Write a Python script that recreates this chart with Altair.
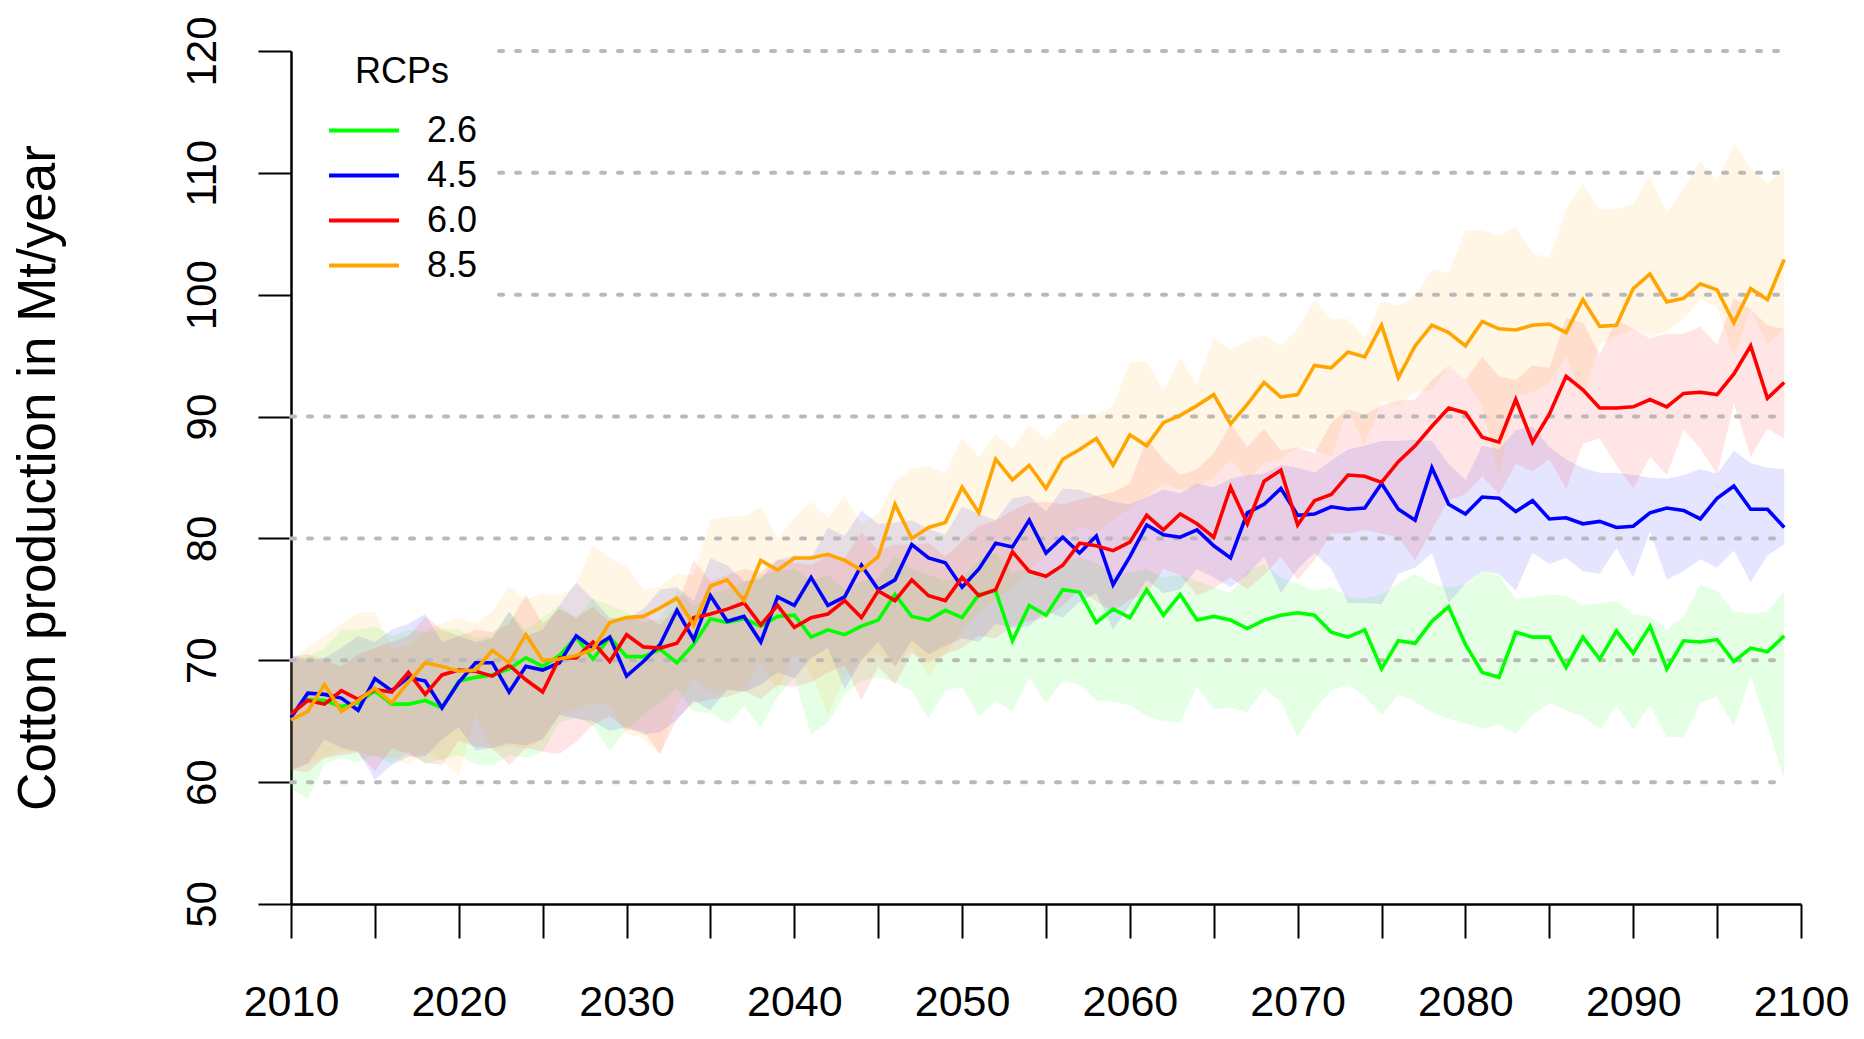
import altair as alt
import pandas as pd

years = list(range(2010, 2100))
rcp_labels = ["2.6", "4.5", "6.0", "8.5"]
rcp_colors = ["#00ff00", "#0000ff", "#ff0000", "#ffa500"]

rcp26 = [65.5, 66.8, 66.7, 66.2, 66.5, 67.5, 66.4, 66.4, 66.7, 66.1,
         68.3, 68.6, 68.8, 69.3, 70.2, 69.5, 70.4, 71.9, 70.1, 71.9,
         70.3, 70.3, 70.9, 69.8, 71.3, 73.4, 73.1, 73.4, 72.8, 73.6,
         73.7, 71.9, 72.5, 72.1, 72.8, 73.3, 75.4, 73.6, 73.3, 74.1,
         73.5, 75.4, 75.7, 71.6, 74.5, 73.7, 75.8, 75.6, 73.1, 74.2,
         73.5, 75.8, 73.7, 75.4, 73.3, 73.6, 73.3, 72.6, 73.3, 73.7,
         73.9, 73.7, 72.3, 71.9, 72.5, 69.3, 71.6, 71.4, 73.2, 74.4,
         71.3, 69.0, 68.6, 72.3, 71.9, 71.9, 69.4, 71.9, 70.1, 72.4,
         70.6, 72.8, 69.3, 71.6, 71.5, 71.7, 69.9, 71.0, 70.7, 72.0]
rcp45 = [65.3, 67.3, 67.2, 66.9, 65.9, 68.5, 67.5, 68.6, 68.3, 66.1,
         68.2, 69.8, 69.8, 67.4, 69.5, 69.2, 69.8, 72.0, 71.0, 71.9,
         68.7, 69.9, 71.3, 74.1, 71.7, 75.3, 73.2, 73.6, 71.5, 75.2,
         74.5, 76.8, 74.5, 75.2, 77.8, 75.8, 76.6, 79.5, 78.4, 78.0,
         76.0, 77.5, 79.6, 79.3, 81.5, 78.8, 80.1, 78.8, 80.2, 76.2,
         78.5, 81.1, 80.3, 80.1, 80.7, 79.4, 78.4, 82.1, 82.8, 84.1,
         81.9, 82.0, 82.6, 82.4, 82.5, 84.5, 82.4, 81.5, 85.8, 82.8,
         82.0, 83.4, 83.3, 82.2, 83.1, 81.6, 81.7, 81.2, 81.4, 80.9,
         81.0, 82.1, 82.5, 82.3, 81.6, 83.3, 84.3, 82.4, 82.4, 80.9]
rcp60 = [65.6, 66.7, 66.4, 67.5, 66.8, 67.6, 67.4, 69.0, 67.2, 68.8,
         69.2, 69.1, 68.7, 69.6, 68.4, 67.4, 70.2, 70.2, 71.5, 69.9,
         72.1, 71.1, 71.0, 71.4, 73.5, 73.8, 74.2, 74.7, 72.9, 74.5,
         72.7, 73.5, 73.8, 74.9, 73.5, 75.7, 74.9, 76.6, 75.3, 74.9,
         76.8, 75.3, 75.8, 78.9, 77.3, 76.9, 77.8, 79.6, 79.4, 79.0,
         79.7, 81.9, 80.7, 82.0, 81.2, 80.1, 84.2, 81.2, 84.7, 85.6,
         81.1, 83.1, 83.6, 85.2, 85.1, 84.6, 86.3, 87.6, 89.2, 90.7,
         90.3, 88.3, 87.9, 91.4, 87.9, 90.2, 93.3, 92.2, 90.7, 90.7,
         90.8, 91.4, 90.8, 91.9, 92.0, 91.8, 93.5, 95.8, 91.5, 92.8]
rcp85 = [65.1, 65.8, 68.0, 65.8, 66.7, 67.7, 66.5, 68.2, 69.8, 69.5,
         69.1, 69.2, 70.8, 69.8, 72.1, 70.0, 70.1, 70.4, 70.9, 73.1,
         73.5, 73.6, 74.3, 75.1, 72.9, 76.1, 76.6, 74.9, 78.2, 77.4,
         78.4, 78.4, 78.7, 78.2, 77.4, 78.5, 82.8, 80.0, 80.9, 81.3,
         84.2, 82.1, 86.5, 84.8, 86.0, 84.1, 86.5, 87.3, 88.2, 86.0,
         88.5, 87.6, 89.5, 90.1, 90.9, 91.8, 89.4, 91.0, 92.8, 91.6,
         91.8, 94.2, 94.0, 95.3, 94.9, 97.5, 93.2, 95.8, 97.5, 96.9,
         95.8, 97.8, 97.2, 97.1, 97.5, 97.6, 96.9, 99.6, 97.4, 97.5,
         100.5, 101.7, 99.4, 99.7, 100.9, 100.4, 97.7, 100.5, 99.6, 102.9]

rcp26_hi = [70.0, 70.3, 71.0, 72.5, 72.5, 72.8, 72.0, 72.5, 72.3, 72.6,
            72.5, 71.8, 72.0, 74.0, 72.5, 73.5, 74.5, 73.5, 75.1, 74.5,
            74.0, 73.1, 73.4, 75.8, 74.4, 75.5, 75.8, 76.4, 77.0, 77.3,
            77.5, 76.5, 77.0, 75.8, 76.5, 76.8, 78.5, 77.5, 77.0, 76.5,
            76.8, 78.2, 78.8, 77.2, 77.5, 76.8, 78.0, 78.5, 78.0, 77.0,
            77.2, 77.5, 76.8, 77.0, 76.5, 76.0, 75.5, 77.3, 77.9, 76.8,
            76.3, 75.7, 76.0, 75.2, 75.1, 75.4, 76.3, 77.1, 76.3, 76.0,
            76.2, 77.3, 77.0, 75.0, 75.2, 75.4, 75.3, 74.5, 74.7, 74.8,
            73.8, 73.6, 72.5, 73.6, 76.2, 75.7, 74.0, 73.8, 74.0, 75.7]
rcp26_lo = [59.5, 58.6, 61.5, 62.0, 61.6, 62.2, 61.5, 62.5, 61.5, 61.9,
            62.2, 61.5, 61.3, 62.2, 62.0, 62.5, 64.9, 65.3, 64.6, 62.6,
            64.3, 65.5, 66.5, 67.7, 65.8, 65.7, 64.8, 66.2, 64.5, 67.0,
            68.6, 63.9, 64.9, 67.2, 68.3, 68.6, 68.2, 67.5, 65.2, 67.5,
            67.8, 65.3, 66.7, 65.8, 68.6, 66.5, 68.3, 68.0, 66.7, 66.6,
            66.3, 65.4, 65.0, 64.9, 67.8, 66.0, 66.1, 65.7, 67.7, 66.6,
            63.7, 66.0, 67.5, 68.0, 67.0, 65.5, 67.2, 66.6, 65.7, 65.2,
            64.8, 64.4, 64.7, 64.0, 65.5, 66.5, 65.9, 65.4, 64.3, 66.3,
            64.3, 66.3, 63.7, 63.7, 66.5, 67.0, 64.6, 68.7, 64.6, 60.2]
rcp45_hi = [70.5, 70.0, 70.2, 71.0, 72.0, 71.5, 72.5, 73.0, 73.8, 71.5,
            72.0, 71.5, 71.8, 74.0, 72.0, 72.5, 74.5, 76.4, 75.0, 73.5,
            73.4, 74.2, 75.8, 76.0, 74.9, 78.4, 77.8, 76.5, 76.7, 78.2,
            78.6, 78.4, 80.9, 80.2, 82.3, 81.2, 81.3, 81.5, 80.8, 80.3,
            82.6, 82.0, 81.5, 83.3, 83.5, 82.2, 84.1, 84.0, 83.5, 83.0,
            82.8, 83.4, 84.0, 83.7, 84.5, 84.2, 84.9, 85.2, 85.3, 86.0,
            85.8, 85.4, 86.4, 87.3, 87.6, 88.0, 88.0, 88.1, 88.0, 86.1,
            84.8, 87.6, 87.3, 88.9, 89.2, 87.5, 86.5, 85.8, 85.4, 85.4,
            85.2, 85.0, 84.9, 85.2, 85.7, 85.3, 87.2, 86.2, 85.8, 85.7]
rcp45_lo = [61.0, 61.5, 63.5, 62.8, 62.5, 60.2, 61.4, 62.1, 62.1, 63.5,
            64.5, 62.6, 62.8, 63.2, 63.0, 63.5, 65.5, 65.2, 65.0, 64.2,
            64.5, 63.9, 64.1, 65.1, 66.7, 65.9, 67.6, 67.4, 68.0, 69.0,
            68.5, 70.2, 71.0, 67.6, 70.0, 71.5, 69.5, 71.6, 70.5, 71.2,
            71.8, 71.5, 73.0, 72.6, 72.8, 74.0, 73.5, 74.8, 75.5, 72.5,
            74.5, 76.6, 75.5, 75.8, 77.5, 76.8, 76.0, 77.0, 78.5, 75.5,
            77.5, 78.8, 77.5, 74.7, 74.7, 74.6, 77.1, 77.6, 78.8, 74.7,
            76.3, 77.3, 77.1, 75.7, 78.8, 77.9, 78.4, 77.3, 77.1, 79.2,
            76.8, 80.6, 76.6, 77.3, 78.3, 77.6, 79.0, 76.4, 78.6, 79.5]
rcp60_hi = [70.3, 70.5, 70.0, 69.5, 70.5, 71.0, 71.5, 72.0, 73.6, 72.5,
            72.0, 72.5, 72.3, 73.0, 75.4, 73.0, 74.2, 73.5, 74.4, 73.1,
            73.4, 73.8, 72.9, 74.4, 78.2, 76.5, 77.0, 77.5, 77.2, 78.3,
            78.0, 77.8, 78.6, 78.4, 80.5, 79.0, 79.5, 79.5, 79.6, 78.5,
            79.8, 81.0, 81.5, 82.3, 82.9, 83.0, 82.8, 83.2, 83.5, 83.8,
            84.5, 88.2, 86.5, 85.2, 85.7, 87.0, 89.4, 87.5, 89.0, 87.2,
            87.5, 87.0, 89.5, 90.6, 90.2, 90.9, 91.3, 91.4, 93.0, 94.2,
            93.0, 94.9, 93.3, 93.0, 94.2, 94.0, 98.1, 97.7, 95.1, 97.9,
            97.2, 96.4, 96.8, 96.8, 97.4, 95.9, 99.7, 98.8, 97.5, 97.2]
rcp60_lo = [61.0, 60.8, 62.0, 62.2, 62.4, 60.9, 62.8, 62.3, 61.6, 61.4,
            63.4, 62.9, 62.8, 61.4, 62.8, 62.5, 62.3, 63.3, 64.7, 65.4,
            64.3, 64.2, 62.3, 65.2, 66.5, 66.8, 67.0, 67.5, 66.8, 68.0,
            67.8, 68.2, 69.0, 69.6, 66.7, 69.5, 68.0, 70.6, 69.8, 70.5,
            71.0, 72.0, 71.8, 72.8, 73.2, 73.5, 74.5, 75.8, 74.8, 74.0,
            75.0, 75.4, 77.5, 77.0, 75.3, 75.9, 76.8, 75.8, 77.0, 78.5,
            76.6, 78.2, 80.4, 80.4, 80.7, 80.4, 80.1, 78.2, 80.7, 83.2,
            83.6, 85.1, 83.6, 86.1, 85.5, 86.5, 84.1, 87.8, 88.2, 86.0,
            84.1, 86.7, 85.2, 88.9, 87.4, 85.2, 91.1, 86.7, 89.0, 88.2]
rcp85_hi = [70.0, 71.0, 72.0, 73.0, 73.9, 74.0, 71.0, 71.2, 72.5, 73.0,
            73.5, 73.0, 74.0, 76.0, 75.0, 75.5, 75.3, 76.2, 79.5, 78.4,
            77.7, 75.8, 76.0, 77.1, 77.0, 81.5, 81.8, 81.8, 82.6, 80.0,
            81.7, 83.0, 81.7, 83.5, 81.2, 82.0, 84.7, 85.7, 86.0, 85.3,
            88.2, 86.7, 88.5, 87.4, 89.3, 88.1, 89.5, 90.2, 90.2, 90.9,
            94.5, 94.5, 92.1, 94.8, 92.6, 96.5, 95.5, 96.2, 96.7, 95.8,
            97.2, 99.6, 98.0, 98.0, 96.4, 99.5, 99.1, 99.9, 102.1, 101.8,
            105.3, 105.3, 104.8, 105.6, 103.4, 103.0, 107.0, 109.1, 107.0, 107.0,
            107.5, 109.7, 106.7, 108.8, 111.0, 109.3, 112.4, 110.4, 109.1, 110.4]
rcp85_lo = [61.0, 61.5, 62.0, 62.5, 62.5, 62.1, 62.0, 61.4, 62.5, 61.8,
            60.5, 65.6, 62.5, 63.0, 62.7, 63.5, 65.5, 66.0, 66.5, 66.3,
            64.0, 63.6, 62.3, 66.4, 68.5, 67.5, 67.5, 67.6, 69.8, 67.5,
            70.7, 69.0, 65.6, 68.5, 70.0, 70.5, 69.5, 71.0, 68.6, 70.5,
            72.5, 74.0, 75.0, 76.0, 77.5, 78.5, 80.0, 81.0, 80.5, 81.5,
            82.5, 83.5, 84.5, 84.0, 84.2, 85.0, 86.5, 84.8, 86.2, 86.5,
            87.5, 87.3, 86.7, 90.6, 87.6, 91.3, 90.9, 92.0, 92.2, 94.2,
            93.0, 90.8, 85.1, 91.7, 92.0, 92.7, 95.0, 91.5, 95.9, 96.6,
            97.2, 96.6, 97.0, 98.0, 99.6, 99.0, 95.0, 98.8, 95.9, 97.2]

y_ticks = [50, 60, 70, 80, 90, 100, 110, 120]
x_ticks = list(range(2010, 2101, 5))
grid_levels = [60, 70, 80, 90, 100, 110, 120]

means = [rcp26, rcp45, rcp60, rcp85]
highs = [rcp26_hi, rcp45_hi, rcp60_hi, rcp85_hi]
lows = [rcp26_lo, rcp45_lo, rcp60_lo, rcp85_lo]

rows = []
for lab, m, hi, lo in zip(rcp_labels, means, highs, lows):
    for yr, a, b, c in zip(years, m, hi, lo):
        rows.append({"year": yr, "rcp": lab, "value": a, "hi": b, "lo": c})
df = pd.DataFrame(rows)

# gridlines: the upper three leave room for the legend
grid_df = pd.DataFrame({
    "level": grid_levels,
    "x0": [2010 if g < 100 else 2022.4 for g in grid_levels],
    "x1": [2099] * len(grid_levels),
})

FONT = "Liberation Sans"
W, H = 1510, 853

x_scale = alt.Scale(domain=[2010, 2100], nice=False, zero=False)
y_scale = alt.Scale(domain=[50, 120], nice=False, zero=False)

x_axis = alt.Axis(
    values=x_ticks, format="d",
    labelExpr="datum.value % 10 === 0 ? datum.label : ''",
    title=None, grid=False, tickSize=34, tickWidth=2, tickColor="black",
    domainColor="black", domainWidth=2.5, labelFontSize=43, labelFont=FONT,
    labelColor="black", labelPadding=43, labelFlush=False, labelOverlap=False,
)
y_axis = alt.Axis(
    values=y_ticks, format="d", grid=False, tickSize=33, tickWidth=2,
    tickColor="black", domainColor="black", domainWidth=2.5,
    labelFontSize=42, labelFont=FONT, labelColor="black", labelAngle=270,
    labelAlign="center", labelBaseline="bottom", labelPadding=34,
    labelOverlap=False, labelFlush=False,
    title="Cotton production in Mt/year", titleFontSize=53, titleFont=FONT,
    titleFontWeight="normal", titleColor="black", titleAngle=270,
    titleX=-237, titleY=H / 2, titleAlign="center", titleBaseline="alphabetic",
)

def X(field):
    return alt.X(field, type="quantitative", scale=x_scale, axis=x_axis)

def Y(field):
    return alt.Y(field, type="quantitative", scale=y_scale, axis=y_axis)

color_scale = alt.Scale(domain=rcp_labels, range=rcp_colors)

band_layers = []
for lab, col in zip(rcp_labels, rcp_colors):
    band_layers.append(
        alt.Chart(df).transform_filter(alt.datum.rcp == lab)
        .mark_area(fill=col, fillOpacity=0.1, interpolate="linear")
        .encode(x=X("year"), y=Y("lo"), y2="hi")
    )

grid = alt.Chart(grid_df).mark_rule(
    color="#b9b9b9", strokeWidth=4, strokeDash=[4, 13], strokeCap="round"
).encode(x=X("x0"), x2="x1", y=Y("level"))

lines = alt.Chart(df).mark_line(strokeWidth=3.6, interpolate="linear").encode(
    x=X("year"), y=Y("value"),
    stroke=alt.Stroke(
        "rcp:N", scale=color_scale,
        legend=alt.Legend(
            title="RCPs", orient="none", legendX=36, legendY=4,
            symbolType="stroke", symbolSize=4900, symbolStrokeWidth=4,
            labelFontSize=36, labelFont=FONT, labelColor="black",
            titleFontSize=36, titleFont=FONT, titleFontWeight="normal",
            titleColor="black", titleAnchor="middle", titlePadding=17,
            labelOffset=26, rowPadding=0, clipHeight=45, padding=0,
        ),
    ),
)

chart = alt.layer(*band_layers, grid, lines).properties(
    width=W, height=H,
    padding={"left": 283, "top": 43, "right": 55, "bottom": 125},
    autosize=alt.AutoSizeParams(type="none"),
    background="white",
).configure(font=FONT).configure_view(stroke=None)

chart.save("out.html", embed_options={"renderer": "svg", "actions": False})
